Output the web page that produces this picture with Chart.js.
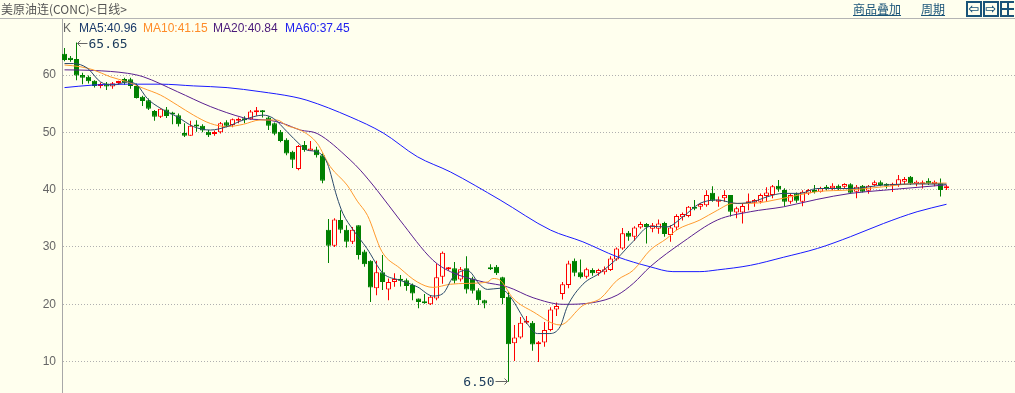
<!DOCTYPE html>
<html>
<head>
<meta charset="utf-8">
<script src="https://cdn.jsdelivr.net/npm/chart.js@4.4.1/dist/chart.umd.min.js"></script>
<style>
  html, body { margin: 0; padding: 0; background: #ffffee; }
  #wrap { position: relative; width: 1015px; height: 393px; overflow: hidden; background: #ffffee; }
  #chart { position: absolute; left: 0; top: 0; }
  #title { position: absolute; left: 1px; top: 1px; font: 12px "Noto Sans CJK SC", sans-serif; color: #555; line-height: 16px; white-space: nowrap; }
  #sep { position: absolute; left: 0; top: 18px; width: 1015px; height: 1px; background: #b4b4b4; }
  .leg { position: absolute; top: 21px; font: 12px "Liberation Sans", Arial, sans-serif; line-height: 14px; white-space: nowrap; }
  .lnk { position: absolute; top: 1px; font: 12px "Noto Sans CJK SC", sans-serif; color: #1a5478; text-decoration: underline; line-height: 16px; }
  .ico { position: absolute; top: 1px; width: 12px; height: 12px; border: 2px solid #1a5478; color: #1a5478;
         font: bold 13px "DejaVu Sans", sans-serif; line-height: 12px; text-align: center; overflow: hidden; }
</style>
</head>
<body>
<div id="wrap">
  <canvas id="chart" width="1015" height="393"></canvas>
  <div id="title">美原油连(CONC)&lt;日线&gt;</div>
  <div id="sep"></div>
  <div id="legend"></div>
  <span class="lnk" style="left:853px">商品叠加</span>
  <span class="lnk" style="left:921px">周期</span>
  <div class="ico" style="left:966px">&#8678;</div>
  <div class="ico" style="left:983px">&#8680;</div>
  <div class="ico" style="left:1000px;border-right:none;">
    <div style="position:absolute;left:0;top:5px;width:12px;height:2px;background:#1a5478"></div>
    <div style="position:absolute;left:5px;top:0;width:2px;height:12px;background:#1a5478"></div>
  </div>
</div>
<script>
// daily candles (index 0 = leftmost)
const opens = [63.7, 63.0, 62.8, 60.0, 59.7, 59.0, 58.1, 58.5, 58.0, 58.6,
  59.3, 59.25, 58.1, 56.2, 55.6, 53.7, 52.7, 54.0, 53.3, 53.0,
  49.9, 49.4, 51.2, 51.15, 50.1, 49.7, 50.0, 51.75, 51.3, 52.0,
  52.4, 52.3, 53.5, 53.7, 52.6, 51.6, 50.1, 48.7, 46.6, 43.6,
  47.8, 46.8, 47.0, 46.0, 33.0, 30.2, 34.7, 33.0, 30.9, 33.8,
  29.2, 27.6, 22.8, 25.6, 22.6, 23.9, 24.3, 24.2, 23.35, 21.0,
  20.3, 20.0, 21.0, 24.8, 26.1, 26.3, 24.35, 26.3, 24.5, 22.45,
  20.7, 26.3, 26.55, 24.7, 21.3, 13.2, 14.2, 16.8, 16.8, 13.05,
  13.35, 15.5, 19.1, 21.8, 23.35, 27.6, 25.6, 24.8, 26.0, 25.4,
  25.6, 26.0, 27.8, 29.75, 32.5, 31.8, 33.4, 34.0, 33.2, 33.2,
  34.2, 32.1, 33.4, 35.2, 35.4, 37.0, 37.0, 37.3, 39.45, 37.9,
  38.5, 39.05, 36.0, 36.0, 37.6, 37.7, 37.9, 38.9, 39.05, 40.7,
  39.95, 37.9, 39.35, 37.9, 39.35, 39.95, 39.65, 40.5, 40.25, 40.7,
  40.5, 40.95, 39.65, 40.7, 39.8, 40.8, 41.3, 41.0, 40.7, 40.8,
  41.4, 42.25, 41.0, 40.95, 41.55, 41.0, 41.1, 40.25];
const highs = [64.7, 63.3, 65.65, 60.4, 59.9, 59.1, 58.7, 58.8, 58.8, 59.0,
  59.5, 59.5, 58.5, 56.4, 55.9, 53.9, 54.2, 54.4, 53.6, 53.3,
  51.6, 52.0, 52.1, 51.4, 50.4, 50.3, 51.8, 52.1, 52.4, 52.6,
  52.8, 53.9, 54.4, 53.9, 52.8, 51.7, 50.4, 48.95, 46.8, 47.8,
  48.5, 48.5, 47.5, 46.3, 34.9, 35.0, 36.4, 33.8, 33.5, 33.8,
  29.5, 27.7, 27.6, 28.6, 24.5, 25.4, 25.1, 24.5, 23.65, 21.0,
  21.8, 21.6, 27.1, 29.2, 26.5, 27.4, 26.5, 28.4, 24.8, 22.8,
  20.8, 27.0, 26.85, 24.8, 22.2, 16.4, 17.8, 17.95, 17.1, 13.6,
  16.9, 19.5, 20.3, 23.9, 27.6, 28.0, 27.8, 26.4, 26.3, 26.2,
  26.6, 28.4, 29.9, 33.3, 32.8, 33.6, 34.4, 34.2, 34.2, 34.8,
  34.4, 33.8, 35.7, 36.0, 37.15, 38.2, 37.65, 39.9, 40.6, 38.8,
  39.9, 39.05, 37.0, 37.6, 39.35, 38.35, 39.35, 40.4, 40.8, 41.7,
  40.25, 39.35, 39.5, 39.9, 40.1, 40.8, 40.5, 40.8, 41.1, 40.9,
  41.1, 41.1, 40.8, 40.8, 40.8, 41.6, 41.6, 41.1, 41.2, 42.55,
  42.2, 42.4, 41.6, 41.6, 42.0, 41.6, 41.95, 40.8];
const lows = [62.4, 62.3, 59.1, 58.4, 58.5, 57.8, 57.7, 57.4, 57.6, 58.3,
  58.3, 57.6, 55.9, 54.6, 53.9, 52.0, 52.5, 52.5, 51.4, 51.0,
  49.2, 49.4, 50.1, 50.0, 49.2, 49.4, 49.8, 50.9, 50.9, 51.6,
  51.6, 52.2, 52.9, 52.6, 50.4, 49.5, 48.25, 46.0, 43.8, 43.4,
  46.6, 46.8, 45.6, 41.1, 27.2, 30.0, 32.4, 29.9, 30.5, 27.8,
  26.55, 20.4, 21.6, 22.5, 20.7, 23.05, 23.1, 22.35, 20.7, 19.3,
  20.1, 19.9, 20.7, 23.6, 25.9, 23.65, 24.0, 21.9, 21.9, 19.9,
  19.3, 26.0, 25.1, 20.0, 6.5, 10.1, 14.0, 16.55, 11.9, 9.95,
  12.6, 15.3, 17.95, 20.85, 22.8, 24.9, 24.5, 24.5, 25.0, 25.0,
  25.2, 25.8, 27.6, 29.5, 31.1, 31.1, 33.2, 30.6, 32.55, 32.3,
  31.8, 30.9, 32.9, 34.6, 35.2, 36.4, 36.5, 37.0, 37.9, 37.0,
  37.9, 35.3, 35.0, 34.1, 36.4, 37.0, 37.6, 37.9, 38.5, 39.65,
  37.1, 37.55, 37.7, 37.1, 39.05, 39.35, 39.5, 39.85, 39.9, 39.9,
  40.2, 39.3, 38.5, 39.5, 39.3, 40.6, 40.6, 40.2, 39.6, 40.5,
  41.0, 40.8, 40.6, 40.2, 40.8, 40.6, 38.8, 39.95];
const closes = [62.6, 62.6, 59.9, 59.5, 58.9, 58.1, 58.3, 58.0, 58.55, 58.7,
  58.65, 58.1, 56.0, 55.45, 54.1, 52.7, 54.1, 52.85, 53.1, 51.4,
  49.4, 51.15, 51.0, 50.3, 49.5, 49.8, 51.6, 51.15, 52.3, 52.1,
  52.1, 53.65, 53.7, 53.5, 51.15, 49.75, 48.5, 46.3, 45.2, 47.6,
  46.9, 47.2, 46.0, 41.55, 30.2, 34.8, 33.0, 30.9, 33.0, 28.6,
  27.0, 22.95, 25.6, 23.9, 23.9, 24.4, 24.1, 23.2, 21.9, 20.4,
  20.2, 21.3, 24.7, 29.0, 26.3, 24.1, 26.1, 22.6, 22.35, 20.7,
  20.15, 26.1, 25.4, 21.1, 13.05, 14.2, 16.8, 17.15, 13.0, 13.4,
  15.5, 19.1, 19.7, 23.5, 27.1, 25.5, 24.7, 26.1, 25.4, 26.0,
  26.1, 28.0, 29.75, 32.4, 31.8, 33.4, 34.0, 33.5, 33.8, 34.1,
  32.25, 33.4, 35.4, 35.75, 37.0, 36.65, 37.5, 39.05, 38.05, 38.3,
  39.05, 36.15, 36.75, 37.15, 38.0, 38.2, 39.05, 39.5, 40.6, 40.05,
  37.9, 39.05, 38.05, 39.65, 39.95, 39.6, 40.25, 40.15, 40.7, 40.25,
  41.0, 39.45, 40.5, 39.65, 40.7, 41.3, 40.8, 40.7, 41.0, 41.8,
  41.85, 41.1, 41.4, 41.05, 41.1, 41.4, 39.95, 40.5];

// moving averages as [candle index, value]
const ma5 = [[0, 62.0], [1.5, 62.0], [3.8, 61.2], [6.0, 58.8], [8.1, 58.25], [10.5, 58.8], [12.1, 58.25],
  [13.8, 55.9], [16.0, 54.2], [18.8, 52.7], [21.5, 51.0], [24.3, 50.4], [27.1, 51.0], [29.8, 52.15],
  [33.1, 53.0], [34.8, 52.45], [37.1, 50.1], [39.3, 47.8], [40.4, 46.9], [42.1, 46.6], [43.8, 44.6],
  [45.4, 38.75], [46.4, 35.85], [48.1, 33.0], [50.4, 29.75], [53.1, 25.4], [55.9, 24.2], [58.8, 23.05],
  [61.4, 21.45], [63.1, 21.9], [64.8, 24.8], [67.1, 25.95], [69.3, 23.35], [70.5, 22.6], [72.6, 22.8],
  [74.3, 21.3], [77.1, 16.65], [78.8, 14.9], [80.9, 14.9], [82.6, 16.1], [83.8, 19.6], [86.4, 23.5],
  [89.3, 25.5], [92.1, 28.0], [94.8, 31.0], [97.6, 33.6], [100.4, 33.5], [103.1, 35.3], [105.9, 37.6],
  [108.8, 38.2], [112.1, 37.6], [114.8, 37.9], [117.1, 38.75], [119.8, 39.35], [122.6, 39.35],
  [125.4, 40.2], [131.0, 40.2], [136.5, 40.8], [142.1, 41.0], [147, 40.96]];
const ma10 = [[0, 61.75], [2.6, 61.45], [4.8, 60.9], [7.6, 59.7], [10.5, 58.8], [13.1, 57.7], [16.0, 56.5],
  [18.8, 54.75], [21.5, 53.0], [24.3, 51.55], [27.1, 51.0], [29.8, 51.4], [32.6, 52.15], [35.4, 52.15],
  [37.1, 51.15], [39.3, 50.4], [42.1, 48.1], [44.3, 44.0], [47.1, 40.8], [48.8, 38.0], [50.5, 35.5],
  [52.9, 29.2], [55.9, 26.3], [58.8, 23.9], [61.4, 22.95], [64.3, 23.5], [67.1, 23.65], [70.5, 23.9],
  [71.4, 24.5], [72.6, 24.2], [74.8, 21.0], [78.1, 18.7], [82.6, 16.4], [86.4, 19.8], [89.3, 21.0],
  [92.1, 24.2], [94.8, 25.95], [97.6, 29.45], [100.4, 31.5], [102.0, 32.95], [105.9, 34.7], [108.8, 36.4],
  [111.4, 37.6], [114.3, 37.6], [119.8, 38.5], [125.4, 39.65], [131.0, 39.95], [136.5, 40.5],
  [142.1, 41.1], [147, 41.15]];
const ma20 = [[0, 60.9], [4.8, 60.8], [10.5, 60.3], [13.1, 59.7], [18.8, 57.1], [24.3, 54.5], [29.8, 52.55],
  [31.0, 52.3], [33.8, 52.15], [36.4, 51.55], [39.3, 50.4], [42.1, 49.8], [47.6, 45.2], [49.3, 43.4],
  [52.1, 39.9], [55.9, 34.7], [61.4, 27.7], [64.3, 25.7], [69.8, 23.9], [73.8, 23.05], [78.1, 21.15],
  [83.1, 20.0], [88.1, 20.3], [92.1, 21.6], [94.8, 23.65], [97.6, 26.55], [103.1, 30.9], [108.8, 34.7],
  [114.3, 36.15], [119.8, 37.0], [125.4, 38.3], [131.0, 39.35], [136.5, 39.9], [142.1, 40.4], [147, 40.84]];
const ma60 = [[0, 57.8], [4.8, 58.25], [10.5, 58.4], [16.0, 58.4], [21.5, 58.1], [27.1, 57.8], [32.6, 57.1],
  [38.1, 56.2], [40.4, 55.6], [47.6, 52.7], [53.1, 49.9], [58.8, 45.75], [64.3, 43.1], [72.6, 38.2],
  [81.0, 32.95], [86.4, 30.9], [92.1, 28.3], [97.6, 26.55], [101.4, 25.7], [105.9, 25.7], [108.8, 26.0],
  [114.3, 26.8], [119.8, 28.2], [125.5, 29.75], [131.0, 31.8], [136.5, 34.1], [142.1, 36.15], [147, 37.45]];

const yTicks = [10, 20, 30, 40, 50, 60];

const UP = '#ff0000';
const DOWN = '#008000';
const BG = '#ffffee';

const maLines = [
  { name: 'MA5', pts: ma5, line: '#2b4a6b', text: '#1a3a6a', left: 79 },
  { name: 'MA10', pts: ma10, line: '#ff9a2e', text: '#ff8c28', left: 143 },
  { name: 'MA20', pts: ma20, line: '#5a2090', text: '#4a1a7a', left: 213 },
  { name: 'MA60', pts: ma60, line: '#1a1aff', text: '#2020ee', left: 285 }
];

// legend row
const legend = document.getElementById('legend');
legend.innerHTML = '<span class="leg" style="left:63px;color:#666">K</span>' +
  maLines.map((m) => '<span class="leg" style="left:' + m.left + 'px;color:' + m.text + '">' +
    m.name + ':' + m.pts[m.pts.length - 1][1].toFixed(2) + '</span>').join('');

const isUp = closes.map((c, i) => c >= opens[i]);

// arrows + numbers at the highest high and lowest low
const extremeLabels = {
  id: 'extremeLabels',
  afterDraw(chart) {
    const { ctx } = chart;
    const xs = chart.scales.x;
    const ys = chart.scales.y;
    const hi = Math.max(...highs);
    const lo = Math.min(...lows);
    const hx = xs.getPixelForValue(highs.indexOf(hi));
    const hy = Math.round(ys.getPixelForValue(hi)) + 0.5;
    const lx = xs.getPixelForValue(lows.indexOf(lo));
    const ly = Math.round(ys.getPixelForValue(lo)) - 0.5;
    ctx.save();
    ctx.strokeStyle = '#666';
    ctx.lineWidth = 1;
    ctx.beginPath();
    ctx.moveTo(hx + 1, hy); ctx.lineTo(hx + 11, hy);
    ctx.moveTo(hx + 4, hy - 3); ctx.lineTo(hx + 1, hy); ctx.lineTo(hx + 4, hy + 3);
    ctx.moveTo(lx - 13, ly); ctx.lineTo(lx - 1, ly);
    ctx.moveTo(lx - 4, ly - 3); ctx.lineTo(lx - 1, ly); ctx.lineTo(lx - 4, ly + 3);
    ctx.stroke();
    ctx.fillStyle = '#1a3a5a';
    ctx.font = '13px "DejaVu Sans Mono", monospace';
    ctx.textBaseline = 'middle';
    ctx.textAlign = 'left';
    ctx.fillText(hi.toFixed(2), hx + 12, hy + 1);
    ctx.textAlign = 'right';
    ctx.fillText(lo.toFixed(2), lx - 14, ly + 1);
    ctx.restore();
  }
};

const lineSets = maLines.map((m) => ({
  type: 'line',
  label: m.name,
  data: m.pts.map((p) => ({ x: p[0], y: p[1] })),
  borderColor: m.line,
  borderWidth: 1,
  pointRadius: 0,
  cubicInterpolationMode: 'monotone',
  order: 0
}));

new Chart(document.getElementById('chart'), {
  type: 'bar',
  data: {
    datasets: [
      ...lineSets,
      {
        label: 'body',
        data: opens.map((o, i) => ({ x: i, y: [o, closes[i]] })),
        backgroundColor: isUp.map((u) => (u ? BG : DOWN)),
        borderColor: isUp.map((u) => (u ? UP : DOWN)),
        borderWidth: 1,
        borderSkipped: false,
        minBarLength: 2,
        inflateAmount: 0,
        barThickness: 5,
        grouped: false,
        order: 1
      },
      {
        label: 'wick',
        data: lows.map((l, i) => ({ x: i, y: [l, highs[i]] })),
        backgroundColor: isUp.map((u) => (u ? UP : DOWN)),
        borderWidth: 0,
        inflateAmount: 0,
        barThickness: 1,
        grouped: false,
        order: 2
      }
    ]
  },
  options: {
    responsive: false,
    animation: false,
    layout: { padding: { top: 19, left: 0, right: 0, bottom: 0 } },
    plugins: { legend: { display: false }, tooltip: { enabled: false } },
    scales: {
      x: { type: 'linear', display: false, offset: false, min: -2.5 / 6, max: -2.5 / 6 + 953 / 6 },
      y: {
        min: 4.53,
        max: 69.77,
        afterBuildTicks: (s) => { s.ticks = yTicks.map((v) => ({ value: v })); },
        afterFit: (s) => { s.width = 62; s.paddingTop = 0; s.paddingBottom = 0; },
        grid: { color: '#b0b0b0', lineWidth: 1, drawTicks: false },
        border: { display: true, color: '#a8a8a8', width: 1, dash: [1, 2] },
        ticks: { color: '#666', padding: 6, font: { family: 'Liberation Sans', size: 12 } }
      }
    }
  },
  plugins: [extremeLabels]
});
</script>
</body>
</html>
